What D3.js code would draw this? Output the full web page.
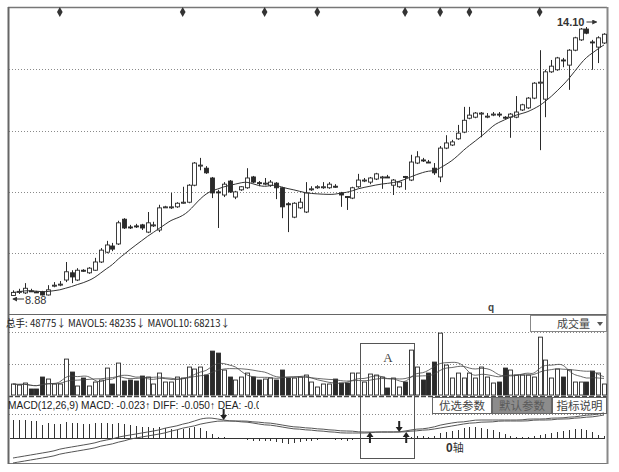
<!DOCTYPE html>
<html><head><meta charset="utf-8">
<script src="https://cdn.jsdelivr.net/npm/d3@7"></script>
<style>body{margin:0;background:#fff} svg{display:block}</style>
</head><body><svg id="c" width="619" height="472"></svg>
<script>
// ---------- DATA ----------
const opens  = [8.89,8.96,8.94,8.98,8.96,8.96,8.90,9.08,9.10,9.19,9.33,9.19,9.38,9.33,9.38,9.54,9.73,9.85,9.89,10.37,10.22,10.24,10.26,10.12,10.25,10.16,10.60,10.60,10.61,10.68,10.70,11.03,11.41,11.36,11.17,10.90,10.84,11.11,10.80,10.94,10.98,11.19,11.08,11.06,11.03,11.07,10.98,10.67,10.41,10.59,10.51,10.95,10.98,10.99,10.98,11.01,10.88,10.81,10.78,11.00,11.12,11.09,11.15,11.18,11.19,11.03,11.00,11.20,11.13,11.46,11.52,11.48,11.36,11.19,11.75,11.81,11.93,12.06,12.33,12.35,12.42,12.36,12.40,12.41,12.35,12.35,12.35,12.49,12.53,12.72,13.01,12.70,13.23,13.27,13.46,13.36,13.65,13.85,14.06,13.81,13.71,13.79];
const highs  = [8.99,9.02,9.13,9.02,8.98,8.98,9.09,9.15,9.17,9.54,9.38,9.42,9.40,9.44,9.62,9.81,9.95,9.91,10.34,10.39,10.26,10.28,10.28,10.51,10.32,10.65,10.63,10.88,10.70,11.00,11.05,11.48,11.56,11.40,11.19,10.94,11.09,11.13,10.92,11.01,11.36,11.21,11.11,11.17,11.13,11.09,11.00,10.70,10.70,10.78,11.09,11.01,11.03,11.09,11.09,11.05,10.90,10.82,11.00,11.25,11.17,11.19,11.27,11.21,11.23,11.15,11.11,11.21,11.62,11.69,11.56,11.52,11.46,11.79,12.00,11.91,12.20,12.55,12.55,12.45,12.45,12.43,12.45,12.45,12.37,12.43,12.76,12.61,12.74,13.03,13.65,13.27,13.46,13.52,13.50,13.67,13.91,14.08,14.10,13.85,13.92,13.98];
const lows   = [8.88,8.92,8.92,8.96,8.94,8.89,8.89,9.05,9.07,9.15,9.13,9.17,9.35,9.31,9.37,9.52,9.71,9.75,9.87,10.18,10.18,10.20,10.16,10.10,10.22,10.12,10.59,10.57,10.59,10.67,10.68,11.01,11.32,11.25,10.78,10.20,10.80,10.88,10.76,10.92,10.96,11.07,11.01,11.03,11.00,10.76,10.39,10.12,10.39,10.57,10.49,10.92,10.96,10.96,10.96,10.98,10.61,10.55,10.76,10.98,11.09,11.05,11.13,10.96,11.17,10.84,10.98,10.94,11.11,11.44,11.48,11.46,11.23,11.09,11.73,11.79,11.91,12.04,12.31,12.33,11.96,12.33,12.37,12.35,12.31,11.95,12.33,12.47,12.51,12.70,11.71,12.35,13.21,13.25,13.32,12.88,13.63,13.83,13.96,13.27,13.40,13.77];
const closes = [8.95,8.97,9.03,8.97,8.95,8.90,9.00,9.09,9.11,9.35,9.25,9.38,9.36,9.42,9.54,9.77,9.87,9.79,10.30,10.20,10.21,10.23,10.20,10.30,10.26,10.59,10.61,10.61,10.68,10.70,11.03,11.46,11.42,11.27,10.88,10.89,11.05,10.90,10.90,11.00,11.17,11.09,11.07,11.07,11.09,10.98,10.61,10.65,10.68,10.70,10.88,10.96,11.00,11.00,11.05,11.00,10.84,10.79,10.98,11.13,11.13,11.17,11.25,11.19,11.18,11.13,11.09,11.18,11.48,11.58,11.51,11.47,11.27,11.75,11.85,11.87,12.04,12.29,12.39,12.43,12.43,12.37,12.41,12.40,12.34,12.41,12.45,12.59,12.72,13.01,13.03,13.23,13.34,13.50,13.45,13.65,13.89,14.06,13.98,13.80,13.89,13.96];
const volumes = [48800,44300,53200,26600,26600,79800,70900,48800,48800,159600,102000,39900,75400,39900,57600,66500,119700,48800,141900,62100,66500,62100,84200,79800,48800,97500,57600,57600,79800,75400,124200,115300,124200,88700,195100,186200,110900,79800,66500,79800,97500,79800,66500,70900,75400,66500,110900,75400,75400,79800,88700,57600,35500,48800,48800,70900,53200,53200,97500,97500,57600,93100,88700,79800,31000,75400,35500,57600,199500,124200,66500,97500,146300,274900,133000,75400,97500,75400,97500,75400,124200,79800,53200,57600,119700,110900,88700,88700,88700,79800,257200,155200,75400,115300,79800,110900,57600,57600,57600,106400,97500,48775];
const macdBars = [0.18,0.18,0.18,0.17,0.17,0.13,0.15,0.14,0.14,0.16,0.15,0.15,0.14,0.14,0.15,0.15,0.15,0.14,0.15,0.14,0.13,0.12,0.11,0.11,0.10,0.11,0.10,0.09,0.08,0.09,0.10,0.11,0.10,0.07,0.04,0.01,0.01,-0.01,-0.01,-0.01,-0.02,-0.03,-0.03,-0.03,-0.03,-0.04,-0.05,-0.06,-0.05,-0.04,-0.03,-0.03,-0.02,-0.01,-0.01,-0.02,-0.02,-0.03,-0.02,-0.01,-0.01,-0.01,-0.01,-0.01,-0.01,-0.01,-0.01,-0.01,0.01,0.02,0.02,0.01,0.02,0.05,0.06,0.07,0.08,0.10,0.11,0.11,0.10,0.09,0.08,0.06,0.04,0.02,0.01,0.01,0.01,0.02,0.03,0.04,0.05,0.06,0.07,0.08,0.09,0.09,0.08,0.06,0.03,0.02];
const diffLine = [-0.20,-0.19,-0.18,-0.17,-0.16,-0.15,-0.14,-0.13,-0.11,-0.10,-0.09,-0.08,-0.07,-0.06,-0.05,-0.03,-0.02,-0.01,0.01,0.02,0.03,0.04,0.05,0.06,0.07,0.08,0.10,0.11,0.12,0.14,0.15,0.17,0.19,0.20,0.20,0.19,0.18,0.17,0.17,0.16,0.16,0.15,0.14,0.13,0.13,0.12,0.11,0.10,0.09,0.09,0.08,0.08,0.07,0.07,0.06,0.06,0.05,0.05,0.05,0.05,0.05,0.05,0.06,0.06,0.06,0.06,0.06,0.07,0.08,0.09,0.09,0.10,0.11,0.13,0.14,0.15,0.16,0.16,0.17,0.18,0.18,0.18,0.18,0.18,0.18,0.18,0.18,0.18,0.19,0.19,0.19,0.19,0.20,0.20,0.20,0.21,0.21,0.22,0.23,0.23,0.24,0.25];
const deaLine  = [-0.25,-0.24,-0.23,-0.22,-0.21,-0.20,-0.19,-0.18,-0.16,-0.15,-0.14,-0.13,-0.12,-0.11,-0.10,-0.08,-0.07,-0.06,-0.04,-0.03,-0.01,0.00,0.01,0.02,0.03,0.04,0.05,0.07,0.08,0.10,0.11,0.12,0.14,0.15,0.16,0.17,0.17,0.17,0.17,0.17,0.17,0.16,0.16,0.15,0.15,0.14,0.13,0.12,0.11,0.11,0.10,0.10,0.09,0.09,0.08,0.08,0.07,0.07,0.07,0.06,0.06,0.06,0.06,0.06,0.06,0.06,0.06,0.06,0.07,0.07,0.08,0.08,0.09,0.10,0.11,0.12,0.13,0.14,0.15,0.15,0.16,0.16,0.16,0.17,0.17,0.17,0.17,0.17,0.17,0.18,0.18,0.18,0.18,0.19,0.19,0.19,0.20,0.20,0.21,0.21,0.22,0.23];
const signalIdx = [8,29,43,52,67,73,78,90];
const crossArrows = [{i:36,dir:"down"},{i:61,dir:"up"},{i:66,dir:"down"},{i:67.2,dir:"up"}];
const priceGrid = [9.71,10.90,12.09,13.28];
const volGrid = [140000,280000];
const macdGrid = [0.24];
const volHeader = "总手: 48775↓ MAVOL5: 48235↓ MAVOL10: 68213↓";
const macdHeader = "MACD(12,26,9) MACD: -0.023↑ DIFF: -0.050↑ DEA: -0.027↑";
const buttons = ["优选参数","默认参数","指标说明"];
const volSelect = "成交量";
const boxLabel = "A";
const zeroLabel = ["0","轴"];

// ---------- LAYOUT ----------
const L = 8, R = 607, TOP = 7, PB = 314, VB = 395, MB = 463;
const n = closes.length;
const svg = d3.select("#c");
const x = d3.scaleLinear().domain([0, n-1]).range([13, 604]);
const yP = d3.scaleLinear().domain([d3.min(lows), d3.max(highs)]).range([296, 27]);
const yV = d3.scaleLinear().domain([0, 280000]).range([VB, 332]);
const yM = d3.scaleLinear().domain([-0.25, 0.24]).range([MB, 414]);
const ink = "#2a2a2a";
const latin = "'Liberation Sans', Arial, sans-serif";
const cjk = "'Noto Sans CJK SC', 'Liberation Sans', sans-serif";

// dotted grids
const dotted = (y) => svg.append("line").attr("x1", L+1).attr("x2", R-1).attr("y1", y).attr("y2", y)
  .attr("stroke", "#8a8a8a").attr("stroke-width", 1).attr("stroke-dasharray", "1,2");
priceGrid.forEach(v => dotted(Math.round(yP(v))+0.5));
volGrid.forEach(v => dotted(Math.round(yV(v))+0.5));
macdGrid.forEach(v => dotted(Math.round(yM(v))+0.5));

// frame
svg.append("line").attr("x1", L).attr("x2", R).attr("y1", TOP+0.5).attr("y2", TOP+0.5).attr("stroke", "#777").attr("stroke-width", 1.5);
svg.append("line").attr("x1", L).attr("x2", R).attr("y1", PB+0.5).attr("y2", PB+0.5).attr("stroke", "#666").attr("stroke-width", 1.2);
svg.append("line").attr("x1", L).attr("x2", R).attr("y1", VB+1.5).attr("y2", VB+1.5).attr("stroke", "#444").attr("stroke-width", 1.5).attr("stroke-dasharray", "5,2");
svg.append("line").attr("x1", L).attr("x2", R).attr("y1", MB+0.5).attr("y2", MB+0.5).attr("stroke", "#777").attr("stroke-width", 1.2);
svg.append("line").attr("x1", L+0.5).attr("x2", L+0.5).attr("y1", TOP).attr("y2", MB+1).attr("stroke", "#666").attr("stroke-width", 2);
svg.append("line").attr("x1", R+0.5).attr("x2", R+0.5).attr("y1", TOP).attr("y2", MB+1).attr("stroke", "#888").attr("stroke-width", 2);

// ---------- PRICE PANEL ----------
const cand = d3.range(n).map(i => ({i, o:opens[i], h:highs[i], l:lows[i], c:closes[i]}));
const cg = svg.append("g");
cg.selectAll("line.w").data(cand).join("line")
  .attr("x1", d => Math.round(x(d.i))+0.5).attr("x2", d => Math.round(x(d.i))+0.5)
  .attr("y1", d => yP(d.h)).attr("y2", d => yP(d.l)).attr("stroke", ink).attr("stroke-width", 1);
cg.selectAll("rect").data(cand).join("rect")
  .attr("x", d => Math.round(x(d.i))-1.5).attr("width", 4)
  .attr("y", d => yP(Math.max(d.o, d.c)))
  .attr("height", d => Math.max(1, Math.abs(yP(d.o)-yP(d.c))))
  .attr("fill", d => d.c < d.o ? ink : "#fff").attr("stroke", ink).attr("stroke-width", 0.9);

// moving average of closes
const ma = d3.range(n).map(i => d3.mean(closes.slice(Math.max(0, i-9), i+1)));
svg.append("path").datum(ma).attr("fill", "none").attr("stroke", "#333").attr("stroke-width", 1)
  .attr("d", d3.line().x((d,i) => x(i)).y(d => yP(d)).curve(d3.curveBasis));

// signal diamonds
svg.selectAll("path.dia").data(signalIdx).join("path")
  .attr("transform", d => `translate(${x(d)},12)`)
  .attr("d", d3.symbol(d3.symbolDiamond).size(28)).attr("fill", "#333");

// min / max labels
const iMin = d3.minIndex(lows), iMax = d3.maxIndex(highs);
svg.append("defs").html(`<marker id="ah" viewBox="0 0 6 6" refX="5" refY="3" markerWidth="5" markerHeight="5" orient="auto"><path d="M0,0L6,3L0,6Z" fill="#333"/></marker>
<clipPath id="mclip"><rect x="0" y="395" width="259" height="20"/></clipPath>`);
svg.append("line").attr("x1", x(iMin)+11).attr("x2", x(iMin)).attr("y1", yP(lows[iMin])+3).attr("y2", yP(lows[iMin])+3)
  .attr("stroke", "#333").attr("stroke-width", 1).attr("marker-end", "url(#ah)");
svg.append("text").attr("x", x(iMin)+12).attr("y", yP(lows[iMin])+7.5).text(lows[iMin].toFixed(2))
  .attr("font-family", latin).attr("font-size", 11).attr("fill", "#333");
svg.append("text").attr("x", x(iMax)-2).attr("y", yP(highs[iMax])-1).attr("text-anchor", "end").text(highs[iMax].toFixed(2))
  .attr("font-family", latin).attr("font-size", 11).attr("font-weight", "bold").attr("fill", "#333");
svg.append("line").attr("x1", x(iMax)).attr("x2", x(iMax)+10).attr("y1", yP(highs[iMax])-5).attr("y2", yP(highs[iMax])-5)
  .attr("stroke", "#333").attr("stroke-width", 1).attr("marker-end", "url(#ah)");
svg.append("text").attr("x", 488).attr("y", 311).text("q").attr("font-family", latin).attr("font-size", 10).attr("font-weight", "bold").attr("fill", "#444");

// ---------- VOLUME PANEL ----------
svg.append("text").attr("x", 6).attr("y", 327).text(volHeader)
  .attr("font-family", cjk).attr("font-size", 10.5).attr("fill", "#222").attr("textLength", 224).attr("lengthAdjust", "spacingAndGlyphs");
svg.append("rect").attr("x", 530.5).attr("y", 315.5).attr("width", 76).attr("height", 16).attr("fill", "#fff").attr("stroke", "#888");
svg.append("text").attr("x", 557).attr("y", 328).text(volSelect).attr("font-family", cjk).attr("font-size", 11).attr("fill", "#444");
svg.append("path").attr("d", "M597,322 L603,322 L600,326 Z").attr("fill", "#555");

const vg = svg.append("g");
vg.selectAll("rect").data(cand).join("rect")
  .attr("x", d => Math.round(x(d.i))-1.5).attr("width", 4)
  .attr("y", d => yV(volumes[d.i])).attr("height", d => VB - yV(volumes[d.i]))
  .attr("fill", d => d.c < d.o ? ink : "#fff").attr("stroke", ink).attr("stroke-width", 0.9);
const mav = (k) => d3.range(n).map(i => d3.mean(volumes.slice(Math.max(0, i-k+1), i+1)));
[5, 10].forEach(k => svg.append("path").datum(mav(k)).attr("fill", "none").attr("stroke", "#444").attr("stroke-width", 0.8)
  .attr("d", d3.line().x((d,i) => x(i)).y(d => yV(d)).curve(d3.curveBasis)));

// ---------- MACD PANEL ----------
svg.append("text").attr("x", 8).attr("y", 409).text(macdHeader).attr("clip-path", "url(#mclip)")
  .attr("font-family", latin).attr("font-size", 10.5).attr("fill", "#222").attr("textLength", 270).attr("lengthAdjust", "spacingAndGlyphs");
const bx = [432, 492, 552, 607];
buttons.forEach((b, k) => {
  svg.append("rect").attr("x", bx[k]+0.5).attr("y", 397.5).attr("width", bx[k+1]-bx[k]-1).attr("height", 16)
    .attr("fill", k === 1 ? "#8c8c8c" : "#fff").attr("stroke", "#666");
  svg.append("text").attr("x", (bx[k]+bx[k+1])/2).attr("y", 410).attr("text-anchor", "middle").text(b)
    .attr("font-family", cjk).attr("font-size", 11.5).attr("fill", k === 1 ? "#5a5a5a" : "#444");
});
svg.append("line").attr("x1", L+2).attr("x2", R-2).attr("y1", yM(0)+0.5).attr("y2", yM(0)+0.5).attr("stroke", "#333").attr("stroke-width", 1);
svg.selectAll("line.mb").data(macdBars).join("line")
  .attr("x1", (d,i) => Math.round(x(i))+0.5).attr("x2", (d,i) => Math.round(x(i))+0.5)
  .attr("y1", yM(0)).attr("y2", d => yM(d)).attr("stroke", "#333").attr("stroke-width", 1);
[diffLine, deaLine].forEach(arr => svg.append("path").datum(arr).attr("fill", "none").attr("stroke", "#555").attr("stroke-width", 1)
  .attr("d", d3.line().x((d,i) => x(i)).y(d => yM(d)).curve(d3.curveBasis)));
crossArrows.forEach(a => {
  const ax = x(a.i);
  if (a.dir === "down") {
    const yb = yM(diffLine[Math.round(a.i)]) - 1;
    svg.append("line").attr("x1", ax).attr("x2", ax).attr("y1", yb-10).attr("y2", yb-3).attr("stroke", "#222").attr("stroke-width", 2);
    svg.append("path").attr("d", `M${ax-3.5},${yb-4}L${ax+3.5},${yb-4}L${ax},${yb+1}Z`).attr("fill", "#222");
  } else {
    const yt = yM(0) - 5;
    svg.append("line").attr("x1", ax).attr("x2", ax).attr("y1", yt+3).attr("y2", yt+10).attr("stroke", "#222").attr("stroke-width", 2);
    svg.append("path").attr("d", `M${ax-3.5},${yt+4}L${ax+3.5},${yt+4}L${ax},${yt-1}Z`).attr("fill", "#222");
  }
});
const zt = svg.append("text").attr("x", 446).attr("y", 452).attr("fill", "#333");
zt.append("tspan").attr("font-family", latin).attr("font-weight", "bold").attr("font-size", 12).text(zeroLabel[0]);
zt.append("tspan").attr("font-family", cjk).attr("font-size", 11).text(zeroLabel[1]);

// box A
svg.append("rect").attr("x", 360.5).attr("y", 343.5).attr("width", 54).attr("height", 115).attr("fill", "none").attr("stroke", "#555").attr("stroke-width", 1);
svg.append("text").attr("x", 388).attr("y", 362).attr("text-anchor", "middle").text(boxLabel)
  .attr("font-family", "'Liberation Serif', serif").attr("font-size", 13).attr("fill", "#444");
</script></body></html>
